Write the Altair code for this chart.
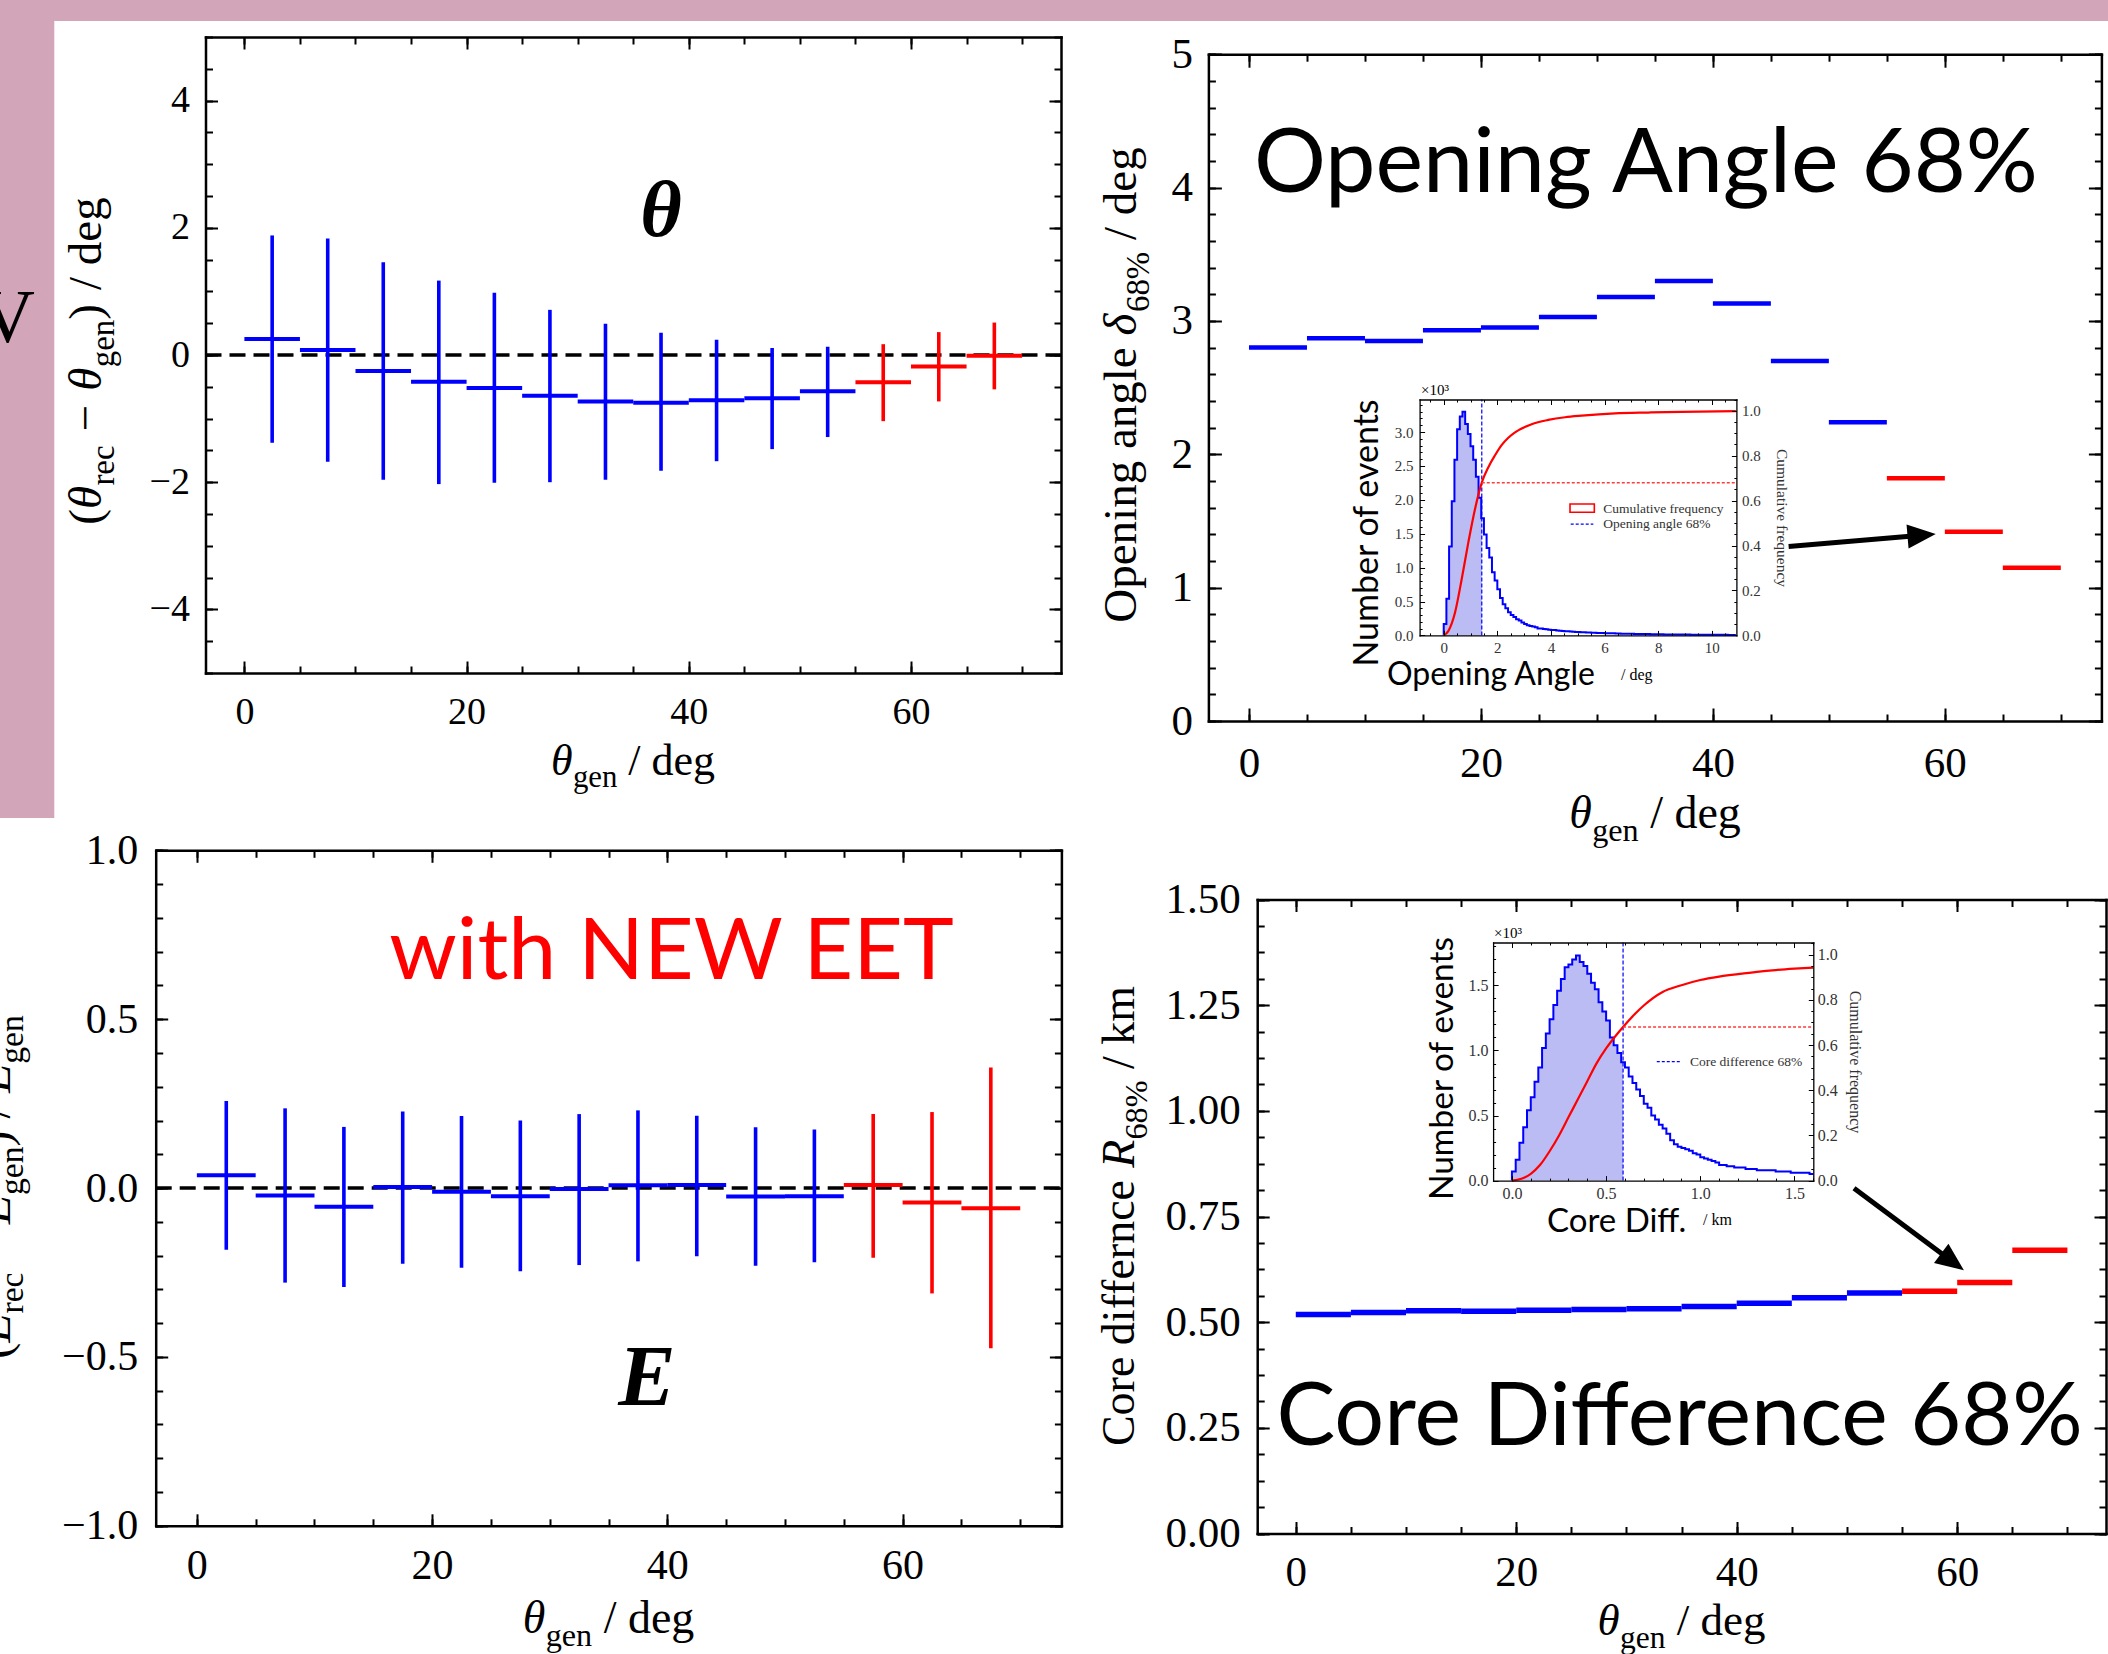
import altair as alt
import pandas as pd

W, H = 2108, 1654

# ===================== values =====================
bin_lo = [0, 5, 10, 15, 20, 25, 30, 35, 40, 45, 50, 55, 60, 65]
bin_hi = [5, 10, 15, 20, 25, 30, 35, 40, 45, 50, 55, 60, 65, 70]
bin_mid = [2.5, 7.5, 12.5, 17.5, 22.5, 27.5, 32.5, 37.5, 42.5, 47.5, 52.5, 57.5, 62.5, 67.5]
bin_group = ["old"] * 11 + ["new"] * 3

dtheta_mean = [0.25, 0.08, -0.25, -0.42, -0.52, -0.64, -0.73, -0.75, -0.71, -0.68, -0.57, -0.43, -0.18, -0.01]
dtheta_low = [-1.38, -1.68, -1.96, -2.03, -2.01, -2.00, -1.96, -1.82, -1.67, -1.48, -1.29, -1.04, -0.73, -0.54]
dtheta_high = [1.88, 1.83, 1.46, 1.17, 0.98, 0.71, 0.49, 0.35, 0.24, 0.11, 0.13, 0.17, 0.36, 0.51]

denergy_mean = [0.038, -0.022, -0.055, 0.003, -0.011, -0.024, -0.003, 0.008, 0.009, -0.025, -0.024, 0.009, -0.043, -0.060]
denergy_low = [-0.183, -0.280, -0.293, -0.224, -0.236, -0.246, -0.228, -0.217, -0.202, -0.230, -0.220, -0.206, -0.312, -0.474]
denergy_high = [0.258, 0.236, 0.181, 0.227, 0.213, 0.200, 0.219, 0.230, 0.214, 0.180, 0.173, 0.219, 0.225, 0.357]

opening68 = [2.80, 2.87, 2.85, 2.93, 2.95, 3.03, 3.18, 3.30, 3.13, 2.70, 2.24, 1.82, 1.42, 1.15]
core68 = [0.518, 0.523, 0.527, 0.526, 0.528, 0.530, 0.532, 0.537, 0.545, 0.558, 0.569, 0.573, 0.594, 0.670]

# inset: opening-angle histogram (x10^3 events), bins of 0.1 deg starting at 0
oa_bin_width = 0.1
oa_counts = [
    0.17, 0.54, 1.31, 1.98, 2.59, 3.04, 3.23, 3.30, 3.12, 2.97,
    2.79, 2.59, 2.34, 2.03, 1.73, 1.49, 1.29, 1.15, 0.93, 0.81,
    0.68, 0.55, 0.46, 0.40, 0.34, 0.30, 0.27, 0.24, 0.22, 0.19,
    0.17, 0.15, 0.14, 0.13, 0.12, 0.10, 0.10, 0.095, 0.09, 0.085,
    0.08, 0.078, 0.072, 0.07, 0.066, 0.062, 0.06, 0.056, 0.055, 0.052,
    0.05, 0.047, 0.046, 0.044, 0.042, 0.04, 0.039, 0.037, 0.036, 0.034,
    0.033, 0.032, 0.03, 0.03, 0.028, 0.027, 0.026, 0.026, 0.024, 0.023,
    0.023, 0.022, 0.021, 0.02, 0.02, 0.019, 0.019, 0.018, 0.017, 0.017,
    0.016, 0.016, 0.015, 0.015, 0.014, 0.014, 0.014, 0.013, 0.013, 0.012,
    0.012, 0.012, 0.011, 0.011, 0.011, 0.010, 0.010, 0.010, 0.009, 0.009,
    0.009, 0.009, 0.008, 0.008, 0.008, 0.008, 0.007, 0.007, 0.007]
oa_cum_x = [0, 0.17, 0.42, 0.67, 0.92, 1.17, 1.42, 1.67, 1.92, 2.16, 2.41, 2.66, 3.28, 3.9, 4.53, 5.15, 6.39, 7.63, 8.87, 10.9]
oa_cum_y = [0, 0.019, 0.101, 0.25, 0.415, 0.564, 0.68, 0.75, 0.803, 0.847, 0.88, 0.904, 0.94, 0.959, 0.971, 0.978, 0.988, 0.992, 0.995, 0.998]
oa_68 = 1.42

# inset: core-difference histogram (x10^3 events), bins of 0.02 km starting at 0
cd_bin_width = 0.02
cd_counts = [
    0.07, 0.16, 0.29, 0.41, 0.54, 0.64, 0.76, 0.87, 1.02, 1.13,
    1.24, 1.35, 1.46, 1.55, 1.64, 1.66, 1.70, 1.73, 1.68, 1.65,
    1.59, 1.52, 1.47, 1.37, 1.30, 1.23, 1.10, 1.04, 0.98, 0.91,
    0.87, 0.80, 0.75, 0.70, 0.65, 0.59, 0.56, 0.50, 0.47, 0.43,
    0.40, 0.36, 0.31, 0.28, 0.26, 0.25, 0.24, 0.23, 0.21, 0.20,
    0.18, 0.17, 0.16, 0.15, 0.14, 0.12, 0.12, 0.11, 0.11, 0.10,
    0.10, 0.10, 0.09, 0.09, 0.09, 0.08, 0.08, 0.08, 0.08, 0.08,
    0.07, 0.07, 0.07, 0.07, 0.06, 0.06, 0.06, 0.06, 0.06, 0.05]
cd_cum_x = [0, 0.05, 0.1, 0.15, 0.2, 0.25, 0.3, 0.35, 0.4, 0.45, 0.5, 0.55, 0.59, 0.65, 0.7, 0.8, 0.9, 1.0, 1.1, 1.2, 1.3, 1.4, 1.5, 1.6]
cd_cum_y = [0, 0.008, 0.03, 0.07, 0.13, 0.2, 0.28, 0.36, 0.44, 0.52, 0.585, 0.64, 0.68, 0.735, 0.775, 0.835, 0.865, 0.888, 0.903, 0.914, 0.924, 0.932, 0.938, 0.943]
cd_68 = 0.59
cum_level = 0.68

# tick values
theta_ticks = [0, 20, 40, 60]
theta_minor = [5 * k for k in range(15)]
p1_yticks = [-4, -2, 0, 2, 4]
p1_yminor = [-5 + 0.5 * k for k in range(21)]
p2_yticks = [0, 1, 2, 3, 4, 5]
p2_yminor = [round(0.2 * k, 2) for k in range(26)]
p3_yticks = [-1.0, -0.5, 0.0, 0.5, 1.0]
p3_yminor = [round(-1 + 0.1 * k, 2) for k in range(21)]
p4_yticks = [0.0, 0.25, 0.5, 0.75, 1.0, 1.25, 1.5]
p4_yminor = [round(0.0625 * k, 4) for k in range(25)]
ia_xticks = [0, 2, 4, 6, 8, 10]
ia_xminor = [round(-0.5 + 0.5 * k, 2) for k in range(23)]
ia_yticks = [0.0, 0.5, 1.0, 1.5, 2.0, 2.5, 3.0]
ia_yminor = [round(0.1 * k, 2) for k in range(35)]
cum_ticks = [0.0, 0.2, 0.4, 0.6, 0.8, 1.0]
cum_minor = [round(0.05 * k, 2) for k in range(22)]
ib_xticks = [0.0, 0.5, 1.0, 1.5]
ib_xminor = [round(-0.1 + 0.1 * k, 2) for k in range(18)]
ib_yticks = [0.0, 0.5, 1.0, 1.5]
ib_yminor = [round(0.1 * k, 2) for k in range(19)]

# ===================== style / layout =====================
PINK = "#d3a5b8"
BLUE = "#0000ff"
RED = "#ff0000"
FILL = "#bcbcf5"
SERIF = "Liberation Serif"
SANS = "Lato"

P = {
    "p1": dict(l=205.5, r=1061.0, t=37.0, b=673.0, xd=(-3.5, 73.5), yd=(-5, 5)),
    "p2": dict(l=1208.4, r=2101.4, t=54.2, b=721.0, xd=(-3.5, 73.5), yd=(0, 5)),
    "p3": dict(l=155.7, r=1061.4, t=850.3, b=1525.8, xd=(-3.5, 73.5), yd=(-1, 1)),
    "p4": dict(l=1257.2, r=2106.0, t=899.5, b=1533.5, xd=(-3.5, 73.5), yd=(0, 1.5)),
    "ia": dict(l=1419.6, r=1736.4, t=399.5, b=635.4, xd=(-0.9, 10.92), yd=(0, 3.48), y2d=(0, 1.05)),
    "ib": dict(l=1493.1, r=1813.3, t=942.5, b=1180.6, xd=(-0.1, 1.6), yd=(0, 1.83), y2d=(0, 1.054)),
}


def S(dom, rng):
    return alt.Scale(domain=list(dom), range=list(rng), nice=False, zero=False)


def X(p, f, axis=None):
    return alt.X(f, type="quantitative", scale=S(p["xd"], (p["l"], p["r"])), axis=axis)


def Y(p, f, right=False, axis=None):
    dom = p["y2d"] if right else p["yd"]
    return alt.Y(f, type="quantitative", scale=S(dom, (p["b"], p["t"])), axis=axis)


COL = alt.Color("g:N", scale=alt.Scale(domain=["old", "new"], range=[BLUE, RED]), legend=None)

layers = []

# ---------- pink slide decoration ----------
bg = pd.DataFrame({"x1": [0, 0], "x2": [W, 54.3], "y1": [0, 0], "y2": [21, 818]})
layers.append(
    alt.Chart(bg).mark_rect(color=PINK).encode(
        x=alt.X("x1:Q", scale=None, axis=None), x2="x2:Q",
        y=alt.Y("y1:Q", scale=None, axis=None), y2="y2:Q"))


# ---------- frames (axes with inward ticks on all four sides) ----------
def frame(p, xmaj, xmin, ymaj, ymin, xfmt, yfmt, lsize, lcol, tmaj, tmin, fw, tw, xpad, ypad,
          y2maj=None, y2min=None, y2fmt=None, y2pad=0):
    out = []

    def ax(orient, offset, values, tsize=0, domain=False, fmt=None, pad=0):
        kw = dict(orient=orient, offset=offset, values=list(values), grid=False, title=None, zindex=3,
                  labelFlush=False, labelOverlap=False, domain=domain, ticks=tsize > 0, tickSize=tsize,
                  labels=fmt is not None)
        if domain:
            kw.update(domainColor="black", domainWidth=fw, domainCap="square")
        if tsize > 0:
            kw.update(tickWidth=tw, tickColor="black")
        if fmt is not None:
            kw.update(format=fmt, labelFont=SERIF, labelFontSize=lsize, labelColor=lcol, labelPadding=pad)
        return alt.Axis(**kw)

    def carrier(xax, yax, right=False):
        ydom = p["y2d"] if right else p["yd"]
        df = pd.DataFrame({"x": [p["xd"][0]], "y": [ydom[0]]})
        return alt.Chart(df).mark_point(opacity=0).encode(
            x=X(p, "x", axis=xax), y=Y(p, "y", right=right, axis=yax))

    has2 = "y2d" in p
    rmaj = y2maj if has2 else ymaj
    rmin = y2min if has2 else ymin
    out.append(carrier(ax("top", -p["b"], xmaj, tmaj, True), ax("right", p["l"] - W, ymaj, tmaj, True)))
    out.append(carrier(ax("top", -p["b"], xmin, tmin), ax("right", p["l"] - W, ymin, tmin)))
    out.append(carrier(ax("bottom", p["t"] - H, xmaj, tmaj, True), ax("left", -p["r"], rmaj, tmaj, True), right=has2))
    out.append(carrier(ax("bottom", p["t"] - H, xmin, tmin), ax("left", -p["r"], rmin, tmin), right=has2))
    out.append(carrier(ax("bottom", p["b"] - H, xmaj, 0, False, xfmt, xpad),
                       ax("left", -p["l"], ymaj, 0, False, yfmt, ypad)))
    if has2:
        out.append(carrier(None, ax("right", p["r"] - W, y2maj, 0, False, y2fmt, y2pad), right=True))
    return out


# ---------- panel 1 : theta bias ----------
p = P["p1"]
d1 = pd.DataFrame(dict(lo=bin_lo, hi=bin_hi, mid=bin_mid, g=bin_group,
                       m=dtheta_mean, elo=dtheta_low, ehi=dtheta_high))
zero1 = pd.DataFrame({"a": [p["xd"][0]], "b": [p["xd"][1]], "y": [0]})
layers += [
    alt.Chart(zero1).mark_rule(color="black", strokeWidth=3.5, strokeDash=[16, 8]).encode(
        x=X(p, "a"), x2="b:Q", y=Y(p, "y")),
    alt.Chart(d1).mark_rule(strokeWidth=4).encode(x=X(p, "lo"), x2="hi:Q", y=Y(p, "m"), color=COL),
    alt.Chart(d1).mark_rule(strokeWidth=3.6).encode(x=X(p, "mid"), y=Y(p, "elo"), y2="ehi:Q", color=COL),
    alt.Chart(pd.DataFrame({"x": [37.5], "y": [2.25], "t": ["θ"]})).mark_text(
        font=SERIF, fontSize=80, fontStyle="italic", fontWeight="bold", align="center", baseline="middle",
        color="black").encode(x=X(p, "x"), y=Y(p, "y"), text="t:N"),
]
layers += frame(p, theta_ticks, theta_minor, p1_yticks, p1_yminor, "d", "d", 38, "black", 12, 7, 2.5, 2, 20, 16)

# ---------- panel 2 : opening angle 68% ----------
p = P["p2"]
d2 = pd.DataFrame(dict(lo=bin_lo, hi=bin_hi, g=bin_group, v=opening68))
layers += [
    alt.Chart(d2).mark_rule(strokeWidth=4.5).encode(x=X(p, "lo"), x2="hi:Q", y=Y(p, "v"), color=COL),
    alt.Chart(pd.DataFrame({"x": [34.23], "y": [3.97], "t": ["Opening Angle 68%"]})).mark_text(
        font=SANS, fontSize=90, align="center", baseline="alphabetic", color="black").encode(
        x=X(p, "x"), y=Y(p, "y"), text="t:N"),
]
layers += frame(p, theta_ticks, theta_minor, p2_yticks, p2_yminor, "d", "d", 43, "black", 13, 7, 2.5, 2, 21, 16)

# ---------- panel 3 : energy bias ----------
p = P["p3"]
d3 = pd.DataFrame(dict(lo=bin_lo, hi=bin_hi, mid=bin_mid, g=bin_group,
                       m=denergy_mean, elo=denergy_low, ehi=denergy_high))
zero3 = pd.DataFrame({"a": [p["xd"][0]], "b": [p["xd"][1]], "y": [0]})
layers += [
    alt.Chart(zero3).mark_rule(color="black", strokeWidth=3.5, strokeDash=[16, 8]).encode(
        x=X(p, "a"), x2="b:Q", y=Y(p, "y")),
    alt.Chart(d3).mark_rule(strokeWidth=4).encode(x=X(p, "lo"), x2="hi:Q", y=Y(p, "m"), color=COL),
    alt.Chart(d3).mark_rule(strokeWidth=3.6).encode(x=X(p, "mid"), y=Y(p, "elo"), y2="ehi:Q", color=COL),
    alt.Chart(pd.DataFrame({"x": [38.27], "y": [-0.564], "t": ["E"]})).mark_text(
        font=SERIF, fontSize=86, fontStyle="italic", fontWeight="bold", align="center", baseline="middle",
        color="black").encode(x=X(p, "x"), y=Y(p, "y"), text="t:N"),
    alt.Chart(pd.DataFrame({"x": [40.35], "y": [0.619], "t": ["with NEW EET"]})).mark_text(
        font=SANS, fontSize=86, align="center", baseline="alphabetic", color=RED).encode(
        x=X(p, "x"), y=Y(p, "y"), text="t:N"),
]
layers += frame(p, theta_ticks, theta_minor, p3_yticks, p3_yminor, "d", ".1f", 42, "black", 12, 7, 2.5, 2, 20, 18)

# ---------- panel 4 : core difference 68% ----------
p = P["p4"]
d4 = pd.DataFrame(dict(lo=bin_lo, hi=bin_hi, g=bin_group, v=core68))
layers += [
    alt.Chart(d4).mark_rule(strokeWidth=5.5).encode(x=X(p, "lo"), x2="hi:Q", y=Y(p, "v"), color=COL),
    alt.Chart(pd.DataFrame({"x": [34.82], "y": [0.209], "t": ["Core Difference 68%"]})).mark_text(
        font=SANS, fontSize=88, align="center", baseline="alphabetic", color="black").encode(
        x=X(p, "x"), y=Y(p, "y"), text="t:N"),
]
layers += frame(p, theta_ticks, theta_minor, p4_yticks, p4_yminor, "d", ".2f", 43, "black", 12, 7, 2.5, 2, 18, 17)


# ---------- insets ----------
def inset(p, counts, width, cum_x, cum_y, v68):
    out = []
    n = len(counts)
    edges = [round(i * width, 4) for i in range(n)]
    line = pd.DataFrame({"x": [0.0] + edges + [round(n * width, 4)],
                         "c": [0.0] + counts + [counts[-1]]})
    k = int(v68 / width + 1e-9)
    area = pd.DataFrame({"x": edges[:k + 1] + [v68], "c": counts[:k + 1] + [counts[k]]})
    area["z"] = 0.0
    cum = pd.DataFrame({"x": cum_x, "c": cum_y})
    vline = pd.DataFrame({"x": [v68], "a": [0.0], "b": [p["yd"][1]]})
    hline = pd.DataFrame({"a": [v68], "b": [p["xd"][1]], "y": [cum_level]})
    out += [
        alt.Chart(area).mark_area(interpolate="step-after", color=FILL, opacity=1).encode(
            x=X(p, "x"), y=alt.Y("c", type="quantitative", scale=S(p["yd"], (p["b"], p["t"])), axis=None, stack=False),
            y2="z:Q"),
        alt.Chart(line).mark_line(interpolate="step-after", color=BLUE, strokeWidth=2).encode(
            x=X(p, "x"), y=Y(p, "c")),
        alt.Chart(vline).mark_rule(color=BLUE, strokeWidth=1.2, strokeDash=[4, 2]).encode(
            x=X(p, "x"), y=Y(p, "a"), y2="b:Q"),
        alt.Chart(cum).mark_line(interpolate="monotone", color=RED, strokeWidth=2.2).encode(
            x=X(p, "x"), y=Y(p, "c", right=True)),
        alt.Chart(hline).mark_rule(color="#ff3b3b", strokeWidth=1.5, strokeDash=[3, 2]).encode(
            x=X(p, "a"), x2="b:Q", y=Y(p, "y", right=True)),
    ]
    return out


p = P["ia"]
layers += inset(p, oa_counts, oa_bin_width, oa_cum_x, oa_cum_y, oa_68)
leg_a = pd.DataFrame({"x1": [4.712], "x2": [5.619], "y1": [1.816], "y2": [1.938]})
leg_a_line = pd.DataFrame({"x1": [4.738], "x2": [5.581], "y": [1.643]})
leg_a_text = pd.DataFrame({"x": [5.95, 5.95], "y": [1.865, 1.643], "t": ["Cumulative frequency", "Opening angle 68%"]})
layers += [
    alt.Chart(leg_a).mark_rect(filled=False, stroke=RED, strokeWidth=1.6).encode(
        x=X(p, "x1"), x2="x2:Q", y=Y(p, "y1"), y2="y2:Q"),
    alt.Chart(leg_a_line).mark_rule(color=BLUE, strokeWidth=1.2, strokeDash=[3, 2]).encode(
        x=X(p, "x1"), x2="x2:Q", y=Y(p, "y")),
    alt.Chart(leg_a_text).mark_text(font=SERIF, fontSize=13.5, align="left", baseline="middle", color="#333").encode(
        x=X(p, "x"), y=Y(p, "y"), text="t:N"),
]
layers += frame(p, ia_xticks, ia_xminor, ia_yticks, ia_yminor, "d", ".1f", 15, "#333", 5, 2.5, 1.3, 1, 5, 6.5,
                cum_ticks, cum_minor, ".1f", 5)

p = P["ib"]
layers += inset(p, cd_counts, cd_bin_width, cd_cum_x, cd_cum_y, cd_68)
leg_b_line = pd.DataFrame({"x1": [0.769], "x2": [0.892], "y": [0.914]})
leg_b_text = pd.DataFrame({"x": [0.945], "y": [0.914], "t": ["Core difference 68%"]})
layers += [
    alt.Chart(leg_b_line).mark_rule(color=BLUE, strokeWidth=1.2, strokeDash=[3, 2]).encode(
        x=X(p, "x1"), x2="x2:Q", y=Y(p, "y")),
    alt.Chart(leg_b_text).mark_text(font=SERIF, fontSize=13.5, align="left", baseline="middle", color="#333").encode(
        x=X(p, "x"), y=Y(p, "y"), text="t:N"),
]
layers += frame(p, ib_xticks, ib_xminor, ib_yticks, ib_yminor, ".1f", ".1f", 16, "#333", 5, 2.5, 1.3, 1, 5, 5,
                cum_ticks, cum_minor, ".1f", 4)

# ---------- arrows from insets to the 60-65 deg bins ----------
HEAD = "M 1 0 L -1 -0.85 L -1 0.85 Z"


def arrow(p, x0, y0, x1, y1, ang):
    df = pd.DataFrame({"x0": [x0], "y0": [y0], "x1": [x1], "y1": [y1]})
    return [
        alt.Chart(df).mark_rule(color="black", strokeWidth=5).encode(
            x=X(p, "x0"), y=Y(p, "y0"), x2="x1:Q", y2="y1:Q"),
        alt.Chart(df).mark_point(shape=HEAD, filled=True, size=800, angle=ang, color="black", opacity=1).encode(
            x=X(p, "x1"), y=Y(p, "y1")),
    ]


layers += arrow(P["p2"], 46.53, 1.309, 58.0, 1.393, 355.2)
layers += arrow(P["p4"], 50.64, 0.817, 59.58, 0.643, 36.8)

# ---------- axis titles and labels (composed text) ----------
TW = {" ": 0.25, "(": 0.333, ")": 0.333, "/": 0.278, "−": 0.564, "%": 0.833, ".": 0.25,
      "a": 0.444, "b": 0.5, "c": 0.444, "d": 0.5, "e": 0.444, "f": 0.333, "g": 0.5, "h": 0.5,
      "i": 0.278, "k": 0.5, "l": 0.278, "m": 0.778, "n": 0.5, "o": 0.5, "p": 0.5, "r": 0.333,
      "s": 0.389, "t": 0.278, "u": 0.5, "v": 0.5, "C": 0.667, "O": 0.722, "E": 0.611, "R": 0.611,
      "θ": 0.5, "δ": 0.5}


def tw(s, size):
    return sum(TW.get(ch, 0.5) for ch in s) * size


def compose(segs, main, center, base, vertical=False):
    sub = 0.7 * main
    shift = 0.28 * main
    total = sum(tw(t, sub if k == "s" else main) + g * main for t, k, g in segs)
    pos = center + total / 2 if vertical else center - total / 2
    rows = []
    for t, k, g in segs:
        size = sub if k == "s" else main
        off = shift if k == "s" else 0
        style = "italic" if k == "i" else "normal"
        if vertical:
            pos -= g * main
            rows.append(dict(t=t, px=base + off, py=pos, size=size, ang=270, style=style))
            pos -= tw(t, size)
        else:
            pos += g * main
            rows.append(dict(t=t, px=pos, py=base + off, size=size, ang=0, style=style))
            pos += tw(t, size)
    return rows


XT = [("θ", "i", 0), ("gen", "s", 0), ("/ deg", "m", 0.25)]
rows = []
rows += compose(XT, 44, 633, 775)
rows += compose(XT, 46, 1655, 828)
rows += compose(XT, 46, 608.5, 1633)
rows += compose(XT, 45, 1681.6, 1635)
rows += compose([("(", "m", 0), ("θ", "i", 0), ("rec", "s", 0), ("−", "m", 0.3), ("θ", "i", 0.3),
                 ("gen", "s", 0), (")", "m", 0), ("/ deg", "m", 0.3)], 47, 361, 101, vertical=True)
rows += compose([("Opening angle", "m", 0), ("δ", "i", 0.25), ("68%", "s", 0), ("/ deg", "m", 0.25)],
                47, 385, 1136, vertical=True)
rows += compose([("(", "m", 0), ("E", "i", 0), ("rec", "s", 0), ("−", "m", 0.22), ("E", "i", 0.22),
                 ("gen", "s", 0), (")", "m", 0), ("/", "m", 0.25), ("E", "i", 0.25), ("gen", "s", 0)],
                48, 1187, 10, vertical=True)
rows += compose([("Core differnce", "m", 0), ("R", "i", 0.25), ("68%", "s", 0), ("/ km", "m", 0.25)],
                46, 1216, 1134, vertical=True)
rows += [
    dict(t="V", px=35, py=342, size=76, ang=0, style="normal"),
    dict(t="/ deg", px=1621, py=680, size=16, ang=0, style="normal"),
    dict(t="×10³", px=1421, py=395, size=15, ang=0, style="normal"),
    dict(t="/ km", px=1703, py=1225, size=16, ang=0, style="normal"),
    dict(t="×10³", px=1494, py=938, size=15, ang=0, style="normal"),
]
tdf = pd.DataFrame(rows)
for style, g in tdf.groupby("style"):
    right = g[g["t"] == "V"]
    left = g[g["t"] != "V"]
    for sub_df, al in ((left, "left"), (right, "right")):
        if len(sub_df) == 0:
            continue
        layers.append(
            alt.Chart(sub_df).mark_text(font=SERIF, fontStyle=style, align=al, baseline="alphabetic",
                                        color="black").encode(
                x=alt.X("px:Q", scale=None, axis=None), y=alt.Y("py:Q", scale=None, axis=None),
                text="t:N", size=alt.Size("size:Q", scale=None), angle=alt.Angle("ang:Q", scale=None)))

# sans-serif inset titles
sans_h = pd.DataFrame([dict(t="Opening Angle", px=1387, py=685, size=32),
                       dict(t="Core Diff.", px=1547, py=1232, size=33)])
sans_v = pd.DataFrame([dict(t="Number of events", px=1367.5, py=533, size=34),
                       dict(t="Number of events", px=1442.5, py=1068.5, size=33.5)])
cum_v = pd.DataFrame([dict(t="Cumulative frequency", px=1782, py=518, size=15.5),
                      dict(t="Cumulative frequency", px=1855, py=1062, size=16)])
layers += [
    alt.Chart(sans_h).mark_text(font=SANS, align="left", baseline="alphabetic", color="black").encode(
        x=alt.X("px:Q", scale=None, axis=None), y=alt.Y("py:Q", scale=None, axis=None),
        text="t:N", size=alt.Size("size:Q", scale=None)),
    alt.Chart(sans_v).mark_text(font=SANS, align="center", baseline="middle", angle=270, color="black").encode(
        x=alt.X("px:Q", scale=None, axis=None), y=alt.Y("py:Q", scale=None, axis=None),
        text="t:N", size=alt.Size("size:Q", scale=None)),
    alt.Chart(cum_v).mark_text(font=SERIF, align="center", baseline="middle", angle=90, color="#333").encode(
        x=alt.X("px:Q", scale=None, axis=None), y=alt.Y("py:Q", scale=None, axis=None),
        text="t:N", size=alt.Size("size:Q", scale=None)),
]

chart = alt.layer(*layers).resolve_scale(
    x="independent", y="independent", color="independent"
).properties(
    width=W, height=H, padding=0, background="white",
    autosize=alt.AutoSizeParams(type="none"),
).configure_view(strokeWidth=0)

chart.save("out.html", embed_options={"renderer": "svg", "actions": False})
